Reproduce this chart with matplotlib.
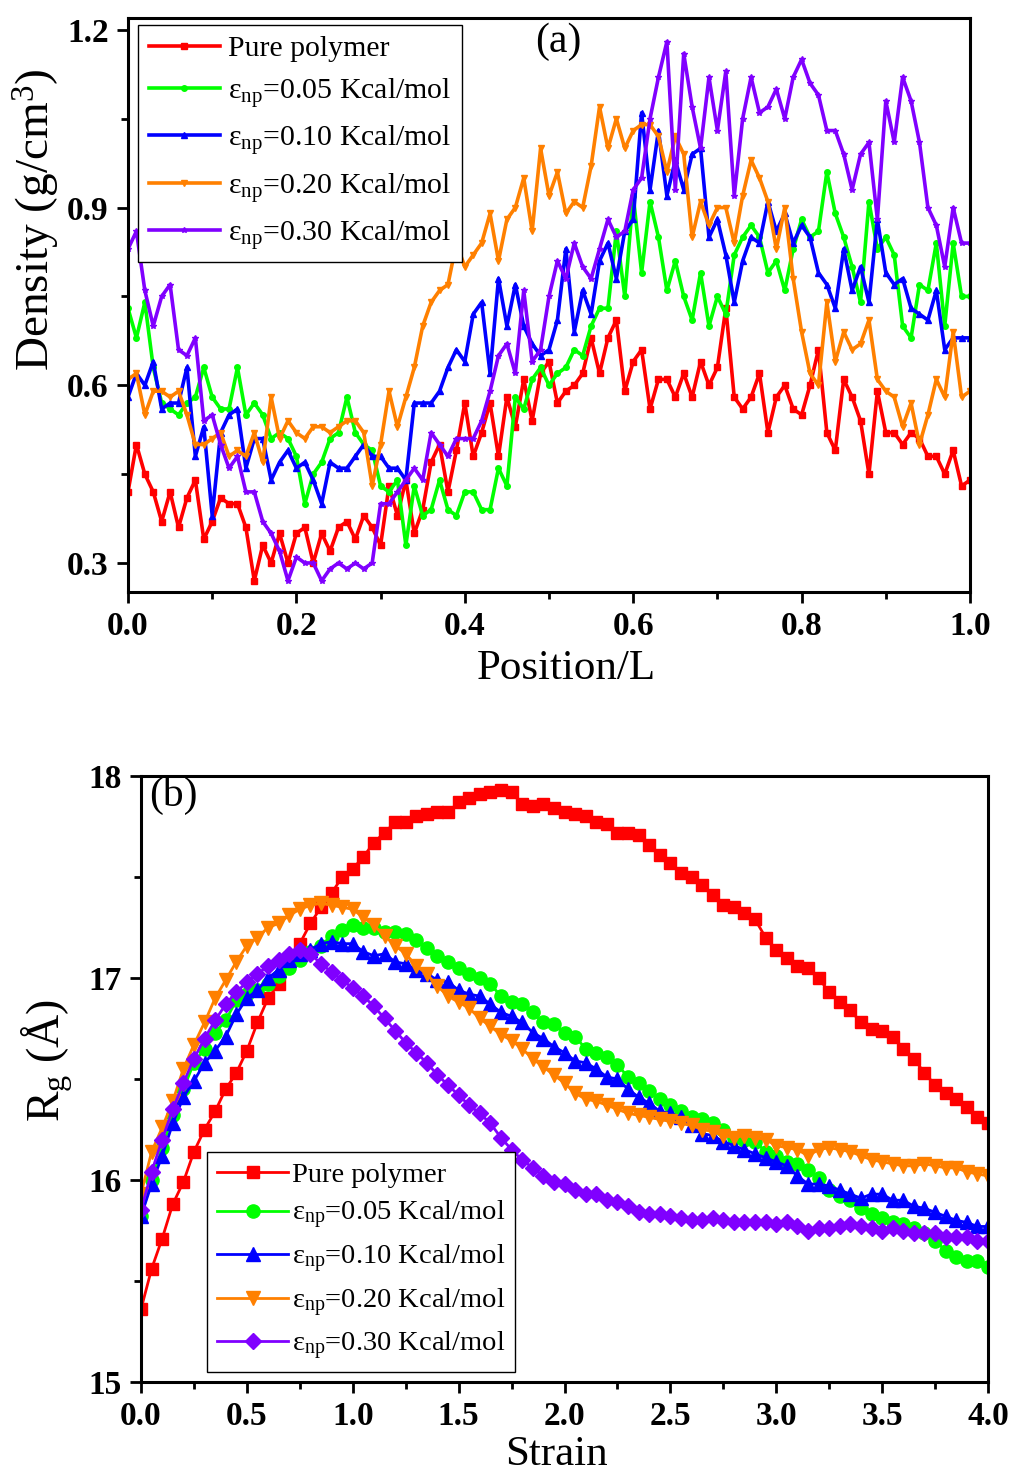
import numpy as np
import matplotlib
matplotlib.use("Agg")
import matplotlib.pyplot as plt
from matplotlib.ticker import MultipleLocator, FormatStrFormatter

plt.rcParams["font.family"] = ["Liberation Serif", "DejaVu Serif"]
plt.rcParams["mathtext.fontset"] = "custom"
plt.rcParams["mathtext.rm"] = "Liberation Serif"
plt.rcParams["mathtext.it"] = "Liberation Serif:italic"
plt.rcParams["mathtext.bf"] = "Liberation Serif:bold"

LABELS = ["Pure polymer",
          "ε$_{\\mathrm{np}}$=0.05 Kcal/mol",
          "ε$_{\\mathrm{np}}$=0.10 Kcal/mol",
          "ε$_{\\mathrm{np}}$=0.20 Kcal/mol",
          "ε$_{\\mathrm{np}}$=0.30 Kcal/mol"]
COLORS = ["#ff0000", "#00ff00", "#0000ff", "#ff8000", "#8000ff"]

# ---- panel (a): density profile along the box, position/L step 0.01
position = np.linspace(0.0, 1.0, 101)

dens_pure = [0.42, 0.50, 0.45, 0.42, 0.37, 0.42, 0.36, 0.41, 0.44, 0.34,
             0.37, 0.41, 0.40, 0.40, 0.36, 0.27, 0.33, 0.30, 0.35, 0.30,
             0.35, 0.36, 0.30, 0.35, 0.32, 0.36, 0.37, 0.34, 0.38, 0.36,
             0.33, 0.43, 0.38, 0.44, 0.35, 0.39, 0.47, 0.50, 0.42, 0.49,
             0.57, 0.48, 0.52, 0.57, 0.48, 0.58, 0.53, 0.61, 0.54, 0.62,
             0.64, 0.57, 0.59, 0.60, 0.62, 0.68, 0.62, 0.68, 0.71, 0.59,
             0.64, 0.66, 0.56, 0.61, 0.61, 0.58, 0.62, 0.58, 0.64, 0.60,
             0.63, 0.73, 0.58, 0.56, 0.58, 0.62, 0.52, 0.58, 0.60, 0.56,
             0.55, 0.60, 0.66, 0.52, 0.49, 0.61, 0.58, 0.54, 0.45, 0.59,
             0.52, 0.52, 0.50, 0.52, 0.51, 0.48, 0.48, 0.45, 0.49, 0.43,
             0.44]
dens_005 = [0.73, 0.68, 0.74, 0.63, 0.57, 0.56, 0.55, 0.57, 0.58, 0.63,
            0.58, 0.56, 0.56, 0.63, 0.55, 0.57, 0.55, 0.51, 0.52, 0.51,
            0.48, 0.40, 0.45, 0.47, 0.51, 0.52, 0.58, 0.52, 0.50, 0.49,
            0.43, 0.42, 0.44, 0.33, 0.43, 0.38, 0.39, 0.44, 0.39, 0.38,
            0.42, 0.42, 0.39, 0.39, 0.46, 0.43, 0.58, 0.56, 0.61, 0.63,
            0.60, 0.62, 0.63, 0.66, 0.65, 0.70, 0.73, 0.73, 0.86, 0.75,
            0.92, 0.79, 0.91, 0.85, 0.76, 0.81, 0.75, 0.71, 0.79, 0.70,
            0.75, 0.72, 0.82, 0.85, 0.87, 0.85, 0.79, 0.81, 0.76, 0.83,
            0.88, 0.85, 0.86, 0.96, 0.89, 0.85, 0.80, 0.74, 0.91, 0.83,
            0.85, 0.82, 0.70, 0.68, 0.77, 0.76, 0.84, 0.70, 0.84, 0.75,
            0.75]
dens_010 = [0.58, 0.62, 0.60, 0.64, 0.56, 0.57, 0.57, 0.63, 0.48, 0.53,
            0.38, 0.52, 0.55, 0.56, 0.46, 0.51, 0.51, 0.44, 0.47, 0.49,
            0.46, 0.47, 0.44, 0.40, 0.47, 0.46, 0.46, 0.48, 0.50, 0.48,
            0.48, 0.46, 0.46, 0.44, 0.57, 0.57, 0.57, 0.59, 0.63, 0.66,
            0.64, 0.72, 0.74, 0.62, 0.78, 0.70, 0.77, 0.70, 0.67, 0.65,
            0.66, 0.71, 0.83, 0.69, 0.76, 0.72, 0.81, 0.84, 0.78, 0.86,
            0.88, 1.06, 0.93, 1.03, 0.92, 0.98, 0.93, 0.99, 1.00, 0.85,
            0.88, 0.82, 0.74, 0.81, 0.85, 0.84, 0.91, 0.86, 0.89, 0.84,
            0.87, 0.85, 0.79, 0.77, 0.73, 0.83, 0.76, 0.80, 0.74, 0.88,
            0.79, 0.77, 0.78, 0.73, 0.72, 0.71, 0.76, 0.66, 0.68, 0.68,
            0.68]
dens_020 = [0.61, 0.62, 0.55, 0.59, 0.59, 0.58, 0.59, 0.55, 0.50, 0.50,
            0.51, 0.52, 0.48, 0.49, 0.48, 0.52, 0.47, 0.58, 0.51, 0.54,
            0.52, 0.51, 0.53, 0.53, 0.52, 0.53, 0.54, 0.54, 0.52, 0.43,
            0.50, 0.59, 0.53, 0.58, 0.63, 0.70, 0.74, 0.76, 0.77, 0.84,
            0.80, 0.82, 0.84, 0.89, 0.81, 0.88, 0.90, 0.95, 0.86, 1.00,
            0.92, 0.96, 0.89, 0.91, 0.90, 0.97, 1.07, 1.00, 1.05, 1.00,
            1.03, 1.04, 1.04, 1.02, 0.96, 1.02, 0.99, 0.85, 0.91, 0.87,
            0.90, 0.90, 0.84, 0.92, 0.98, 0.95, 0.91, 0.83, 0.90, 0.78,
            0.69, 0.62, 0.60, 0.74, 0.64, 0.69, 0.66, 0.67, 0.71, 0.61,
            0.59, 0.58, 0.53, 0.57, 0.50, 0.55, 0.61, 0.58, 0.69, 0.58,
            0.59]
dens_030 = [0.83, 0.86, 0.76, 0.70, 0.75, 0.77, 0.66, 0.65, 0.68, 0.54,
            0.55, 0.50, 0.46, 0.48, 0.42, 0.42, 0.37, 0.35, 0.32, 0.27,
            0.31, 0.30, 0.30, 0.27, 0.29, 0.30, 0.29, 0.30, 0.29, 0.30,
            0.40, 0.40, 0.42, 0.44, 0.46, 0.44, 0.52, 0.50, 0.48, 0.51,
            0.51, 0.51, 0.54, 0.59, 0.65, 0.67, 0.62, 0.76, 0.64, 0.66,
            0.75, 0.81, 0.78, 0.84, 0.80, 0.78, 0.83, 0.88, 0.85, 0.86,
            0.93, 0.95, 1.05, 1.12, 1.18, 0.93, 1.16, 1.07, 1.00, 1.12,
            1.03, 1.13, 0.92, 1.05, 1.12, 1.06, 1.07, 1.10, 1.05, 1.12,
            1.15, 1.11, 1.09, 1.03, 1.03, 0.99, 0.93, 0.99, 1.01, 0.88,
            1.08, 1.01, 1.12, 1.08, 1.01, 0.90, 0.87, 0.80, 0.90, 0.84,
            0.84]

# ---- panel (b): radius of gyration vs strain, step 0.05
strain = np.linspace(0.0, 4.0, 81)

rg_pure = [15.36, 15.56, 15.71, 15.88, 15.99, 16.14, 16.25, 16.34, 16.45, 16.53,
           16.64, 16.78, 16.90, 16.97, 17.10, 17.17, 17.27, 17.35, 17.42, 17.50,
           17.54, 17.60, 17.67, 17.72, 17.77, 17.77, 17.80, 17.81, 17.82, 17.82,
           17.87, 17.89, 17.91, 17.92, 17.93, 17.92, 17.86, 17.85, 17.86, 17.84,
           17.82, 17.81, 17.80, 17.77, 17.76, 17.72, 17.72, 17.71, 17.66, 17.61,
           17.57, 17.52, 17.50, 17.46, 17.41, 17.36, 17.35, 17.32, 17.29, 17.20,
           17.14, 17.10, 17.06, 17.05, 17.00, 16.93, 16.88, 16.84, 16.78, 16.75,
           16.74, 16.71, 16.65, 16.60, 16.53, 16.47, 16.43, 16.40, 16.36, 16.31,
           16.28]
rg_005 = [15.82, 16.00, 16.16, 16.32, 16.45, 16.58, 16.65, 16.73, 16.79, 16.89,
          16.92, 16.94, 16.97, 17.01, 17.05, 17.09, 17.13, 17.16, 17.21, 17.24,
          17.26, 17.25, 17.25, 17.23, 17.23, 17.22, 17.19, 17.15, 17.11, 17.08,
          17.05, 17.02, 17.00, 16.97, 16.91, 16.88, 16.87, 16.83, 16.78, 16.77,
          16.73, 16.71, 16.65, 16.63, 16.61, 16.57, 16.51, 16.48, 16.44, 16.40,
          16.37, 16.34, 16.31, 16.30, 16.28, 16.25, 16.21, 16.20, 16.19, 16.14,
          16.12, 16.09, 16.08, 16.05, 16.01, 15.95, 15.92, 15.90, 15.86, 15.83,
          15.81, 15.79, 15.78, 15.76, 15.74, 15.70, 15.65, 15.62, 15.60, 15.60,
          15.57]
rg_010 = [15.82, 15.98, 16.12, 16.28, 16.41, 16.49, 16.58, 16.64, 16.71, 16.82,
          16.90, 16.94, 17.00, 17.04, 17.09, 17.12, 17.14, 17.17, 17.18, 17.17,
          17.17, 17.13, 17.11, 17.12, 17.08, 17.07, 17.04, 17.02, 16.99, 16.98,
          16.94, 16.92, 16.91, 16.87, 16.83, 16.81, 16.78, 16.73, 16.70, 16.66,
          16.63, 16.59, 16.58, 16.55, 16.51, 16.50, 16.45, 16.41, 16.38, 16.34,
          16.33, 16.31, 16.27, 16.23, 16.22, 16.19, 16.17, 16.15, 16.13, 16.11,
          16.09, 16.07, 16.02, 15.98, 15.98, 15.97, 15.95, 15.93, 15.91, 15.93,
          15.93, 15.90, 15.90, 15.87, 15.86, 15.84, 15.82, 15.80, 15.79, 15.77,
          15.77]
rg_020 = [15.93, 16.14, 16.26, 16.39, 16.55, 16.67, 16.78, 16.90, 16.99, 17.08,
          17.16, 17.20, 17.25, 17.27, 17.31, 17.34, 17.36, 17.37, 17.36, 17.35,
          17.34, 17.30, 17.26, 17.21, 17.16, 17.12, 17.06, 17.02, 16.96, 16.91,
          16.88, 16.85, 16.80, 16.76, 16.72, 16.69, 16.65, 16.60, 16.56, 16.52,
          16.48, 16.43, 16.40, 16.39, 16.37, 16.35, 16.33, 16.32, 16.31, 16.30,
          16.29, 16.28, 16.27, 16.25, 16.24, 16.22, 16.21, 16.22, 16.21, 16.20,
          16.17, 16.16, 16.15, 16.12, 16.15, 16.16, 16.15, 16.14, 16.12, 16.10,
          16.09, 16.08, 16.07, 16.07, 16.08, 16.07, 16.06, 16.06, 16.04, 16.03,
          16.02]
rg_030 = [15.85, 16.04, 16.20, 16.35, 16.48, 16.60, 16.70, 16.79, 16.87, 16.93,
          16.98, 17.02, 17.06, 17.09, 17.12, 17.14, 17.12, 17.07, 17.03, 16.99,
          16.95, 16.91, 16.86, 16.80, 16.74, 16.68, 16.63, 16.58, 16.52, 16.47,
          16.42, 16.37, 16.33, 16.28, 16.21, 16.15, 16.10, 16.06, 16.02, 15.99,
          15.98, 15.95, 15.93, 15.93, 15.90, 15.89, 15.87, 15.84, 15.83, 15.83,
          15.82, 15.81, 15.80, 15.80, 15.81, 15.80, 15.79, 15.79, 15.79, 15.79,
          15.78, 15.79, 15.77, 15.75, 15.76, 15.76, 15.77, 15.78, 15.77, 15.76,
          15.75, 15.76, 15.75, 15.74, 15.74, 15.74, 15.72, 15.72, 15.72, 15.70,
          15.70]


def style_axes(ax):
    for sp in ax.spines.values():
        sp.set_linewidth(2.2)
    ax.tick_params(which="both", direction="out", top=False, right=False,
                   width=2, labelsize=24, pad=6)
    ax.tick_params(which="major", length=8)
    ax.tick_params(which="minor", length=5)
    for lab in ax.get_xticklabels() + ax.get_yticklabels():
        lab.set_fontweight("bold")


fig = plt.figure(figsize=(10.15, 14.76), dpi=100)

# panel (a)
ax1 = fig.add_axes([128 / 1015, 1 - 592 / 1476, 842 / 1015, 574 / 1476])
markers_a = ["s", "o", "^", "v", "*"]
for ys, c, m, lab in zip([dens_pure, dens_005, dens_010, dens_020, dens_030],
                         COLORS, markers_a, LABELS):
    ax1.plot(position, ys, color=c, lw=2.6, marker=m, ms=4, mec=c, label=lab)
ax1.set_xlim(0, 1)
ax1.set_ylim(0.251, 1.220)
ax1.set_xticks([0.0, 0.2, 0.4, 0.6, 0.8, 1.0])
ax1.set_yticks([0.3, 0.6, 0.9, 1.2])
ax1.xaxis.set_minor_locator(MultipleLocator(0.1))
ax1.yaxis.set_minor_locator(MultipleLocator(0.15))
ax1.xaxis.set_major_formatter(FormatStrFormatter("%.1f"))
ax1.yaxis.set_major_formatter(FormatStrFormatter("%.1f"))
style_axes(ax1)
ax1.set_xlabel("Position/L", fontsize=31)
ax1.xaxis.set_label_coords(0.521, -0.10)
ax1.set_ylabel("Density (g/cm$^3$)", fontsize=34)
ax1.yaxis.set_label_coords(-0.078, 0.648)
ax1.text(0.511, 0.958, "(a)", transform=ax1.transAxes, ha="center", va="center",
         fontsize=30)
leg1 = ax1.legend(loc="upper left", bbox_to_anchor=(0.012, 0.988), borderaxespad=0,
                  fontsize=21.5, frameon=True, fancybox=False, edgecolor="black",
                  framealpha=1, handlelength=2.4, handletextpad=0.25,
                  labelspacing=0.45, borderpad=0.35, numpoints=1)
leg1.get_frame().set_linewidth(1.0)

# panel (b)
ax2 = fig.add_axes([141 / 1015, 1 - 1382 / 1476, 847 / 1015, 606 / 1476])
markers_b = ["s", "o", "^", "v", "D"]
sizes_b = [8.5, 9.5, 9.5, 9.5, 8.5]
for ys, c, m, s, lab in zip([rg_pure, rg_005, rg_010, rg_020, rg_030],
                            COLORS, markers_b, sizes_b, LABELS):
    ax2.plot(strain, ys, color=c, lw=2, marker=m, ms=s, mec=c, label=lab)
ax2.set_xlim(0, 4)
ax2.set_ylim(15, 18)
ax2.set_xticks(np.arange(0, 4.01, 0.5))
ax2.set_yticks([15, 16, 17, 18])
ax2.xaxis.set_minor_locator(MultipleLocator(0.25))
ax2.yaxis.set_minor_locator(MultipleLocator(0.5))
ax2.xaxis.set_major_formatter(FormatStrFormatter("%.1f"))
style_axes(ax2)
ax2.set_xlabel("Strain", fontsize=31)
ax2.xaxis.set_label_coords(0.49, -0.088)
ax2.set_ylabel("R$_{\\mathrm{g}}$ (Å)", fontsize=33)
ax2.yaxis.set_label_coords(-0.078, 0.531)
ax2.text(0.038, 0.968, "(b)", transform=ax2.transAxes, ha="center", va="center",
         fontsize=30)
leg2 = ax2.legend(loc="lower left", bbox_to_anchor=(0.078, 0.0165), borderaxespad=0,
                  fontsize=20.5, frameon=True, fancybox=False, edgecolor="black",
                  framealpha=1, handlelength=2.5, handletextpad=0.12,
                  labelspacing=0.38, borderpad=0.35, numpoints=1)
leg2.get_frame().set_linewidth(1.0)

fig.savefig("out.png", dpi=100)
